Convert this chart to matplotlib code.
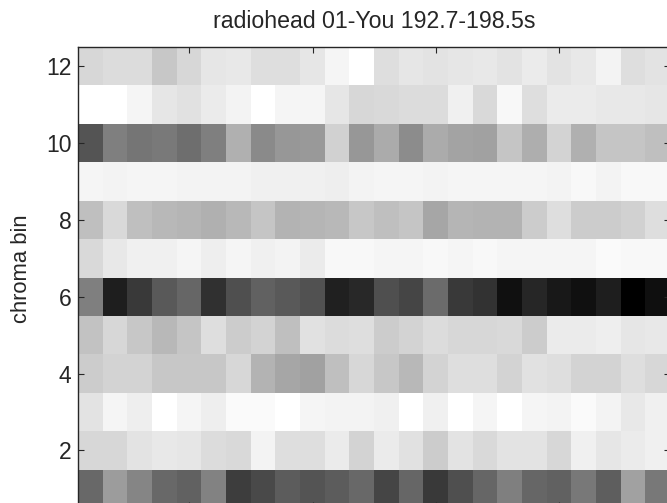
import numpy as np
import matplotlib
matplotlib.use("Agg")
import matplotlib.pyplot as plt

plt.rcParams['font.family'] = ['Liberation Sans', 'DejaVu Sans']

title = "radiohead 01-You 192.7-198.5s"
ylabel = "chroma bin"
n_frames = 24
chroma_bins = list(range(1, 13))
xticks = [5, 10, 15, 20]
yticks = [2, 4, 6, 8, 10, 12]

# displayed brightness per cell (1 = white, 0 = black), one list per chroma bin
bin1 = [.41, .61, .52, .41, .38, .51, .24, .29, .36, .33, .36, .41, .27, .40, .23, .31, .40, .50, .40, .38, .47, .37, .63, .47]
bin2 = [.84, .84, .89, .91, .90, .86, .85, .95, .87, .87, .92, .83, .92, .88, .80, .89, .85, .89, .89, .84, .94, .90, .92, .94]
bin3 = [.89, .96, .93, 1.0, .96, .93, .98, .98, 1.0, .96, .95, .95, .94, 1.0, .94, 1.0, .96, 1.0, .96, .95, .98, .95, .91, .94]
bin4 = [.80, .83, .83, .78, .78, .78, .84, .70, .65, .63, .75, .84, .78, .72, .83, .87, .87, .83, .88, .87, .83, .83, .87, .84]
bin5 = [.76, .84, .78, .72, .77, .87, .80, .83, .75, .88, .86, .87, .80, .83, .86, .84, .84, .85, .80, .92, .92, .93, .90, .91]
bin6 = [.50, .12, .23, .35, .40, .19, .31, .38, .35, .32, .13, .16, .31, .27, .42, .23, .20, .07, .15, .10, .07, .12, .00, .06]
bin7 = [.85, .91, .94, .94, .96, .93, .96, .94, .95, .92, .97, .97, .96, .96, .97, .96, .97, .96, .96, .96, .96, .98, .97, .97]
bin8 = [.75, .85, .75, .72, .71, .69, .72, .77, .70, .71, .72, .78, .75, .77, .65, .71, .70, .70, .80, .87, .80, .80, .82, .87]
bin9 = [.96, .95, .96, .96, .95, .95, .95, .94, .94, .94, .93, .95, .96, .96, .95, .96, .96, .96, .96, .95, .97, .95, .97, .97]
bin10 = [.33, .50, .46, .48, .43, .50, .69, .54, .59, .60, .82, .59, .67, .55, .67, .64, .63, .77, .68, .83, .69, .77, .77, .75]
bin11 = [1.0, 1.0, .96, .90, .88, .92, .95, 1.0, .96, .96, .90, .84, .85, .86, .86, .94, .85, .97, .87, .92, .92, .91, .91, .90]
bin12 = [.84, .86, .86, .78, .84, .90, .91, .87, .87, .90, .96, 1.0, .87, .90, .89, .90, .91, .89, .92, .89, .91, .95, .87, .89]

brightness = np.array([bin1, bin2, bin3, bin4, bin5, bin6,
                       bin7, bin8, bin9, bin10, bin11, bin12])
chroma = 1.0 - brightness  # energy: dark = strong

W, H = 667, 503
fig = plt.figure(figsize=(W / 100, H / 100), dpi=100)
fig.patch.set_facecolor('white')
ax = fig.add_axes([78.3 / W, (H - 508.0) / H, (670.0 - 78.3) / W, (508.0 - 47.3) / H])

ax.imshow(chroma, cmap='gray_r', vmin=0, vmax=1, origin='lower', aspect='auto',
          interpolation='nearest',
          extent=(0.5, n_frames + 0.5, chroma_bins[0] - 0.5, chroma_bins[-1] + 0.5))

ax.set_xticks(xticks)
ax.set_yticks(yticks)
ax.tick_params(direction='in', length=4, width=0.8, color='#262626',
               top=True, right=True, labelsize=16.5, labelcolor='#262626', pad=5)
ax.tick_params(axis='x', labelbottom=False)
for s in ax.spines.values():
    s.set_color('#262626')
    s.set_linewidth(1.0)

ax.set_title(title, fontsize=16.7, color='#262626', pad=14)
ax.set_ylabel(ylabel, fontsize=15.8, color='#262626')
ax.yaxis.set_label_coords(-0.078, 0.52)

fig.savefig('out.png', dpi=100)
